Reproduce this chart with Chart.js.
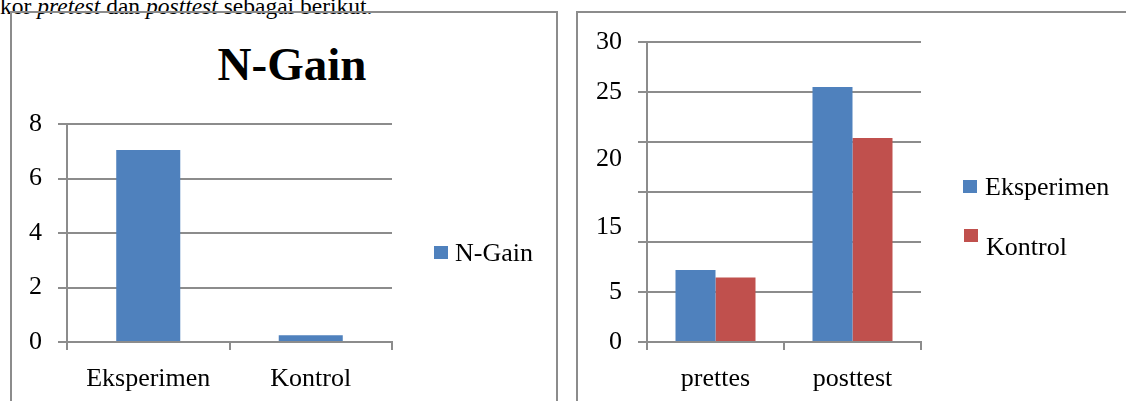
<!DOCTYPE html>
<html>
<head>
<meta charset="utf-8">
<script src="https://cdn.jsdelivr.net/npm/chart.js@4.4.1/dist/chart.umd.min.js"></script>
<style>
  html, body { margin: 0; padding: 0; background: #fff; }
  body {
    width: 1126px; height: 401px; position: relative; overflow: hidden;
    font-family: 'Liberation Serif', 'Times New Roman', serif; color: #000;
  }
  .lead {
    position: absolute; left: 0; top: -6px;
    font-size: 23.5px; line-height: 24px; white-space: nowrap;
  }
  .frame { position: absolute; border: 2px solid #8c8c8c; box-sizing: border-box; background: transparent; }
  #frameGain { left: 10px; top: 11px; width: 548px; height: 430px; }
  #frameScore { left: 576px; top: 11px; width: 600px; height: 430px; }
  .chart-title {
    position: absolute; left: 0; top: 41px; width: 584px;
    text-align: center; font-weight: bold; font-size: 47px; line-height: 47px;
  }
  canvas { position: absolute; top: 0; }
  #gainChart { left: 0; }
  #scoreChart { left: 560px; }
  .key-box { position: absolute; width: 14px; height: 13px; }
  .key-text { position: absolute; font-size: 26px; line-height: 26px; white-space: nowrap; }
</style>
</head>
<body>
<div class="lead">kor <i>pretest</i> dan <i>posttest</i> sebagai berikut.</div>
<div class="frame" id="frameGain"></div>
<div class="frame" id="frameScore"></div>
<div class="chart-title" id="gainTitle"></div>
<canvas id="gainChart" width="560" height="401"></canvas>
<canvas id="scoreChart" width="566" height="401"></canvas>
<div id="keys"></div>

<script>
// N-Gain per group
const gainTitle = 'N-Gain';
const groupLabels = ['Eksperimen', 'Kontrol'];
const nGainValues = [7.05, 0.25];
const gainTickValues = [0, 2, 4, 6, 8];
const gainTickLabels = ['0', '2', '4', '6', '8'];

// Pretest / posttest scores per group
const testLabels = ['prettes', 'posttest'];
const eksperimenScores = [7.2, 25.5];
const kontrolScores = [6.45, 20.4];
const scoreTickValues = [0, 5, 10, 15, 20, 25, 30];
const scoreTickLabels = ['0', '5', '', '15', '20', '25', '30'];

const serif = "'Liberation Serif', 'Times New Roman', serif";
const gray = '#8c8c8c';
const blue = '#4f81bd';
const red = '#c0504d';

document.getElementById('gainTitle').textContent = gainTitle;

function xAxis() {
  return {
    grid: { display: true, drawOnChartArea: false, drawTicks: true, tickLength: 8, color: gray, lineWidth: 2, offset: true },
    border: { display: true, color: gray, width: 2 },
    ticks: { color: '#000', font: { family: serif, size: 26 }, padding: 14, maxRotation: 0, autoSkip: false },
    afterFit: s => { s.height = 59; }
  };
}

function yAxis(min, max, step, width, labelFor) {
  return {
    min: min, max: max,
    grid: { color: gray, lineWidth: 2, tickLength: 9, drawTicks: true },
    border: { display: true, color: gray, width: 2 },
    ticks: {
      stepSize: step, autoSkip: false, color: '#000', padding: 16,
      font: { family: serif, size: 26, lineHeight: 1.35 },
      callback: labelFor
    },
    afterFit: s => { s.width = width; }
  };
}

const common = {
  responsive: false,
  animation: false,
  devicePixelRatio: 1,
  events: [],
  plugins: { legend: { display: false }, title: { display: false }, tooltip: { enabled: false } }
};

const gainChart = new Chart(document.getElementById('gainChart'), {
  type: 'bar',
  data: {
    labels: groupLabels,
    datasets: [{ label: 'N-Gain', data: nGainValues, backgroundColor: blue, barPercentage: 0.394, categoryPercentage: 1 }]
  },
  options: Object.assign({}, common, {
    layout: { padding: { left: 0, right: 168, top: 124, bottom: 0 } },
    scales: {
      x: xAxis(),
      y: yAxis(0, 8, 2, 67, v => gainTickLabels[gainTickValues.indexOf(v)] ?? '')
    }
  })
});

// the 15 and 20 labels sit a little below their grid lines
const scoreLabel = v => {
  const text = scoreTickLabels[scoreTickValues.indexOf(v)] ?? '';
  if (v === 20) return ['', text];
  if (v === 15) return ['', '', text];
  return text;
};

const scoreChart = new Chart(document.getElementById('scoreChart'), {
  type: 'bar',
  data: {
    labels: testLabels,
    datasets: [
      { label: 'Eksperimen', data: eksperimenScores, backgroundColor: blue, barPercentage: 1, categoryPercentage: 0.584 },
      { label: 'Kontrol', data: kontrolScores, backgroundColor: red, barPercentage: 1, categoryPercentage: 0.584 }
    ]
  },
  options: Object.assign({}, common, {
    layout: { padding: { left: 0, right: 205, top: 42, bottom: 0 } },
    scales: {
      x: xAxis(),
      y: yAxis(0, 30, 5, 87, scoreLabel)
    }
  })
});

// legend entries built from each chart's datasets
function drawKeys(chart, spots) {
  const host = document.getElementById('keys');
  chart.data.datasets.forEach((ds, i) => {
    const p = spots[i];
    const box = document.createElement('div');
    box.className = 'key-box';
    box.style.left = p.x + 'px';
    box.style.top = p.y + 'px';
    box.style.background = ds.backgroundColor;
    const txt = document.createElement('div');
    txt.className = 'key-text';
    txt.style.left = (p.x + p.gap) + 'px';
    txt.style.top = p.ty + 'px';
    txt.textContent = ds.label;
    host.appendChild(box);
    host.appendChild(txt);
  });
}

drawKeys(gainChart, [{ x: 434, y: 246, gap: 21, ty: 240 }]);
drawKeys(scoreChart, [
  { x: 963, y: 180, gap: 22, ty: 174 },
  { x: 964, y: 229, gap: 22, ty: 234 }
]);
</script>
</body>
</html>
